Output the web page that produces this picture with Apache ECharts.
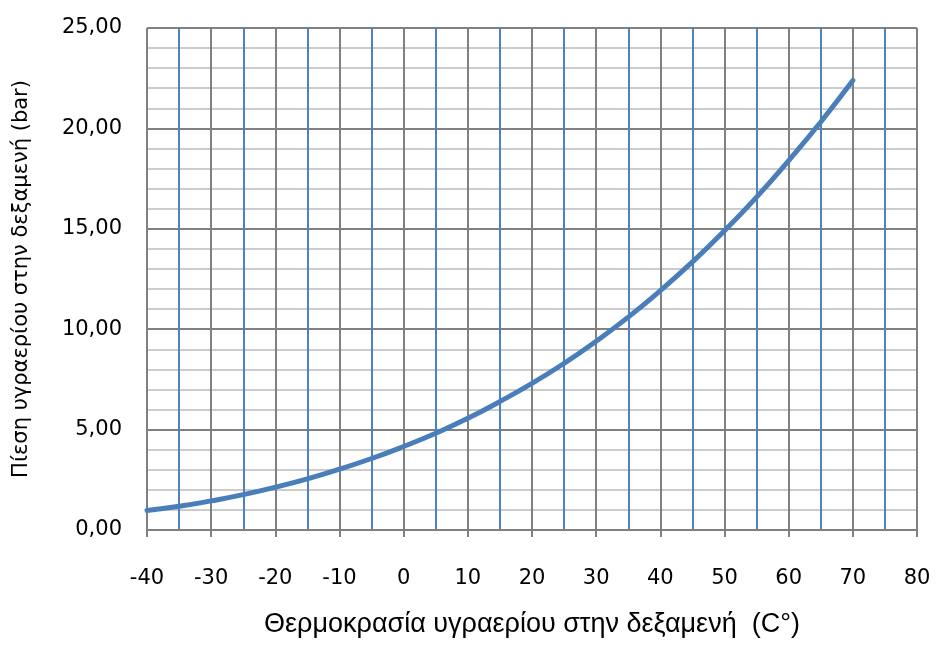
<!DOCTYPE html>
<html><head><meta charset="utf-8">
<script src="https://cdn.jsdelivr.net/npm/echarts@6/dist/echarts.min.js"></script>
<style>html,body{margin:0;padding:0;background:#fff}#c{width:946px;height:645px}</style>
</head><body><div id="c"></div>
<script>
const temperatures = [-40,-35,-30,-25,-20,-15,-10,-5,0,5,10,15,20,25,30,35,40,45,50,55,60,65,70];
const pressures = [0.97,1.18,1.45,1.76,2.13,2.55,3.03,3.56,4.16,4.82,5.56,6.40,7.30,8.30,9.40,10.60,11.92,13.35,14.90,16.58,18.40,20.32,22.38];
const xTitle = 'Θερμοκρασία υγραερίου στην δεξαμενή  (C°)';
const yTitle = 'Πίεση υγραερίου στην δεξαμενή (bar)';

const chart = echarts.init(document.getElementById('c'));
chart.setOption({
  animation:false,
  backgroundColor:'#fff',
  grid:{left:147,right:29,top:28,bottom:115,containLabel:false},
  xAxis:{type:'value',min:-40,max:80,interval:10,
    name:xTitle,nameLocation:'middle',nameGap:81,
    nameTextStyle:{fontFamily:'Liberation Sans',fontSize:27,color:'#000'},
    axisLine:{show:true,lineStyle:{color:'#808080',width:2}},
    axisTick:{show:true,length:7,lineStyle:{color:'#808080',width:2}},
    axisLabel:{margin:38,fontFamily:'DejaVu Sans',fontSize:21,color:'#000'},
    splitLine:{show:true,lineStyle:{color:'#808080',width:2}},
    minorTick:{show:false,splitNumber:2},
    minorSplitLine:{show:true,lineStyle:{color:'#4f81bd',width:2}}
  },
  yAxis:{type:'value',min:0,max:25,interval:5,
    name:yTitle,nameLocation:'middle',nameGap:115,nameRotate:90,
    nameTextStyle:{fontFamily:'DejaVu Sans',fontSize:21,color:'#000'},
    axisLine:{show:true,lineStyle:{color:'#808080',width:2}},
    axisTick:{show:true,length:6,lineStyle:{color:'#808080',width:2}},
    axisLabel:{margin:25,fontFamily:'DejaVu Sans',fontSize:21,color:'#000',
      formatter:v=>v.toFixed(2).replace('.',',')},
    splitLine:{show:true,lineStyle:{color:'#808080',width:2}},
    minorTick:{show:false,splitNumber:5},
    minorSplitLine:{show:true,lineStyle:{color:'#cccccc',width:2}}
  },
  series:[{type:'line',data:temperatures.map((t,i)=>[t,pressures[i]]),
    smooth:true,showSymbol:false,
    lineStyle:{color:'#4a7ebb',width:5,cap:'round'}}]
});
</script></body></html>
